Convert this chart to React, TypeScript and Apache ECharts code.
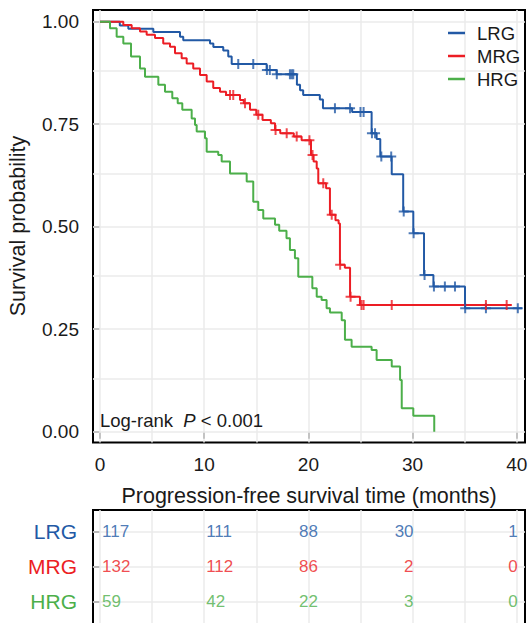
import React, { useEffect, useRef } from "react";
import * as echarts from "echarts";

const FONT = "'Liberation Sans', Arial, Helvetica, sans-serif";

const groupNames = ["LRG", "MRG", "HRG"];
const groupColors = ["#2259A5", "#EC1D24", "#4CAF4A"];

// LRG (low risk group): event times and survival after each event
const lrgTimes = [0, 1.9, 2.72, 5.12, 7.68, 7.99, 10.56, 10.88, 11.83, 12.31, 12.64, 16.0, 16.95, 18.9, 19.2, 19.5, 21.1, 21.4, 24.2, 26.07, 26.55, 26.9, 28.0, 29.1, 30.07, 31.1, 32.0, 35.03];
const lrgSurv = [1, 0.991, 0.983, 0.975, 0.963, 0.955, 0.947, 0.938, 0.93, 0.915, 0.897, 0.882, 0.872, 0.846, 0.833, 0.821, 0.81, 0.789, 0.78, 0.728, 0.714, 0.671, 0.628, 0.537, 0.484, 0.382, 0.354, 0.301];
const lrgEnd = 40.5;
const lrgCensor = [13.27, 14.71, 16.02, 16.3, 16.97, 18.23, 18.4, 18.55, 22.55, 24.0, 25.0, 25.3, 26.1, 26.4, 27.0, 27.95, 29.15, 30.1, 31.15, 32.05, 33.1, 34.07, 35.05, 37.04, 40.1];

// MRG (medium risk group)
const mrgTimes = [0, 2.24, 3.04, 3.84, 4.48, 5.28, 6.07, 6.72, 7.2, 7.84, 8.32, 8.95, 9.6, 10.24, 10.87, 11.52, 12.1, 13.44, 13.8, 14.4, 15.0, 15.6, 16.4, 16.8, 17.3, 18.6, 19.35, 20.25, 20.5, 20.8, 20.95, 21.7, 22.07, 22.6, 22.9, 23.03, 23.5, 24.0, 24.95];
const mrgSurv = [1, 0.992, 0.984, 0.976, 0.968, 0.96, 0.947, 0.939, 0.923, 0.911, 0.898, 0.886, 0.87, 0.854, 0.838, 0.829, 0.821, 0.809, 0.801, 0.785, 0.773, 0.76, 0.752, 0.736, 0.728, 0.72, 0.711, 0.675, 0.659, 0.642, 0.606, 0.594, 0.529, 0.516, 0.508, 0.407, 0.4, 0.329, 0.309];
const mrgEnd = 39.5;
const mrgCensor = [12.48, 12.79, 13.92, 15.19, 16.85, 17.92, 18.88, 20.1, 20.4, 21.43, 22.24, 23.05, 24.05, 25.1, 25.3, 28.0, 37.04, 39.03];

// HRG (high risk group)
const hrgTimes = [0, 0.96, 1.6, 2.24, 2.98, 3.84, 4.32, 5.6, 6.24, 6.94, 7.46, 7.9, 8.8, 9.12, 9.28, 10.08, 10.24, 11.35, 11.68, 12.48, 14.08, 14.71, 15.19, 15.67, 16.8, 17.2, 17.9, 18.23, 18.71, 19.03, 20.38, 20.8, 21.27, 21.75, 22.07, 23.2, 23.51, 24.15, 26.07, 26.55, 28.0, 28.8, 28.96, 30.07, 32.08];
const hrgSurv = [1, 0.984, 0.963, 0.947, 0.915, 0.886, 0.866, 0.846, 0.829, 0.813, 0.801, 0.785, 0.764, 0.748, 0.732, 0.716, 0.683, 0.675, 0.659, 0.63, 0.61, 0.561, 0.541, 0.52, 0.505, 0.49, 0.472, 0.443, 0.423, 0.378, 0.35, 0.329, 0.321, 0.301, 0.291, 0.272, 0.224, 0.207, 0.199, 0.175, 0.159, 0.126, 0.057, 0.039, 0];
const hrgEnd = 32.08;
const hrgCensor: number[] = [];

const xTickValues = [0, 10, 20, 30, 40];
const yTickValues = [0, 0.25, 0.5, 0.75, 1];
const xGridValues = [0, 5, 10, 15, 20, 25, 30, 35, 40];
const yGridValues = [0, 0.125, 0.25, 0.375, 0.5, 0.625, 0.75, 0.875, 1];

// Number at risk table
const riskTimes = [0, 10, 20, 30, 40];
const riskLRG = [117, 111, 88, 30, 1];
const riskMRG = [132, 112, 86, 2, 0];
const riskHRG = [59, 42, 22, 3, 0];
const riskRowValues = [3, 2, 1];

function survAt(times: number[], surv: number[], t: number) {
  let s = surv[0];
  for (let i = 0; i < times.length; i++) if (times[i] <= t) s = surv[i];
  return s;
}

export default function App() {
  const ref = useRef<HTMLDivElement>(null);
  useEffect(() => {
    if (!ref.current) return;
    const chart = echarts.init(ref.current, null, { renderer: "svg" });
    const curves = [
      { times: lrgTimes, surv: lrgSurv, end: lrgEnd, censor: lrgCensor, risk: riskLRG },
      { times: mrgTimes, surv: mrgSurv, end: mrgEnd, censor: mrgCensor, risk: riskMRG },
      { times: hrgTimes, surv: hrgSurv, end: hrgEnd, censor: hrgCensor, risk: riskHRG },
    ];
    const gridLine = {
      silent: true,
      symbol: "none",
      z: 1,
      label: { show: false },
      lineStyle: { color: "#EBEBEB", width: 1.5, type: "solid" },
      emphasis: { disabled: true },
    };
    const series: any[] = [];
    curves.forEach((c, i) => {
      const data = c.times.map((t, k) => [t, c.surv[k]]);
      if (c.end > c.times[c.times.length - 1]) data.push([c.end, c.surv[c.surv.length - 1]]);
      series.push({
        name: groupNames[i],
        type: "line",
        step: "end",
        data,
        symbol: "none",
        xAxisIndex: 0,
        yAxisIndex: 0,
        z: 3,
        lineStyle: { color: groupColors[i], width: 2 },
        itemStyle: { color: groupColors[i] },
        markLine:
          i === 0
            ? {
                ...gridLine,
                data: [
                  ...xGridValues.map((v) => ({ xAxis: v })),
                  ...yGridValues.map((v) => ({ yAxis: v })),
                ],
              }
            : undefined,
      });
    });
    curves.forEach((c, i) => {
      series.push({
        name: groupNames[i] + " censored",
        type: "scatter",
        xAxisIndex: 0,
        yAxisIndex: 0,
        z: 4,
        symbol: "path://M4,0H6V4H10V6H6V10H4V6H0V4H4Z",
        symbolSize: 10,
        itemStyle: { color: groupColors[i] },
        data: c.censor.map((t) => [t, survAt(c.times, c.surv, t)]),
      });
    });
    const alignFor = (k: number) => (k <= 1 ? "left" : k === 2 ? "center" : "right");
    curves.forEach((c, i) => {
      series.push({
        name: groupNames[i] + " at risk",
        type: "scatter",
        xAxisIndex: 1,
        yAxisIndex: 1,
        z: 4,
        symbolSize: 0,
        data: riskTimes.map((t, k) => ({
          value: [t, riskRowValues[i], c.risk[k]],
          label: {
            align: alignFor(k),
            offset: [alignFor(k) === "left" ? 2 : alignFor(k) === "right" ? 1 : 0, 0],
          },
        })),
        label: {
          show: true,
          position: "inside",
          verticalAlign: "middle",
          color: groupColors[i],
          fontSize: 17,
          fontFamily: FONT,
          formatter: (p: any) => String(p.value[2]),
        },
        markLine:
          i === 0
            ? {
                ...gridLine,
                data: [
                  ...xGridValues.map((v) => ({ xAxis: v })),
                  ...riskRowValues.map((v) => ({ yAxis: v })),
                ],
              }
            : undefined,
      });
    });

    const rowName = (v: number) => groupNames[riskRowValues.indexOf(v)];
    const rich: any = {};
    groupNames.forEach((g, i) => {
      rich["g" + i] = { color: groupColors[i], fontSize: 21, fontFamily: FONT };
    });

    const xMin = -0.67;
    const xMax = 40.79;
    const tickStyle = { color: "#222", width: 1.6 };

    chart.setOption({
      animation: false,
      backgroundColor: "#ffffff",
      textStyle: { fontFamily: FONT },
      grid: [
        { left: 93, top: 10, width: 432, height: 432.5, show: true, borderColor: "#000", borderWidth: 2, backgroundColor: "transparent", outerBoundsMode: "none", containLabel: false },
        { left: 93, top: 510, width: 432, height: 116.2, show: true, borderColor: "#000", borderWidth: 2, backgroundColor: "transparent", outerBoundsMode: "none", containLabel: false },
      ],
      xAxis: [
        {
          gridIndex: 0,
          type: "value",
          min: xMin,
          max: xMax,
          axisLine: { show: false },
          splitLine: { show: false },
          axisTick: { show: true, customValues: xTickValues, length: 7, lineStyle: tickStyle },
          axisLabel: { customValues: xTickValues, margin: 12, fontSize: 19, color: "#1a1a1a", fontFamily: FONT },
        },
        {
          gridIndex: 1,
          type: "value",
          min: xMin,
          max: xMax,
          axisLine: { show: false },
          splitLine: { show: false },
          axisTick: { show: false },
          axisLabel: { show: false },
        },
      ],
      yAxis: [
        {
          gridIndex: 0,
          type: "value",
          min: -0.0263,
          max: 1.0285,
          axisLine: { show: false },
          splitLine: { show: false },
          axisTick: { show: true, customValues: yTickValues, length: 7, lineStyle: tickStyle },
          axisLabel: {
            customValues: yTickValues,
            margin: 14,
            fontSize: 19,
            color: "#1a1a1a",
            fontFamily: FONT,
            formatter: (v: number) => v.toFixed(2),
          },
        },
        {
          gridIndex: 1,
          type: "value",
          min: 0.3,
          max: 3.62,
          axisLine: { show: false },
          splitLine: { show: false },
          axisTick: { show: true, customValues: riskRowValues, length: 8, lineStyle: { color: "#222", width: 2 } },
          axisLabel: {
            customValues: riskRowValues,
            margin: 16,
            formatter: (v: number) => {
              const n = rowName(v);
              return "{g" + groupNames.indexOf(n) + "|" + n + "}";
            },
            rich,
          },
        },
      ],
      legend: {
        data: groupNames,
        orient: "vertical",
        left: 448,
        top: 23,
        padding: 0,
        icon: "rect",
        itemWidth: 17,
        itemHeight: 2.5,
        itemGap: 3,
        textStyle: { fontSize: 18.5, lineHeight: 20, color: "#1a1a1a", fontFamily: FONT, padding: [0, 0, 0, 7] },
      },
      graphic: [
        {
          type: "text",
          x: 309,
          y: 496,
          style: {
            text: "Progression-free survival time (months)",
            fontSize: 21.5,
            fontFamily: FONT,
            fill: "#1a1a1a",
            align: "center",
            verticalAlign: "middle",
          },
        },
        {
          type: "text",
          x: 18,
          y: 226,
          rotation: Math.PI / 2,
          style: {
            text: "Survival probability",
            fontSize: 21.5,
            fontFamily: FONT,
            fill: "#1a1a1a",
            align: "center",
            verticalAlign: "middle",
          },
        },
        {
          type: "text",
          x: 100,
          y: 420,
          z: 10,
          style: {
            text: "{a|Log-rank  }{b|P}{a| < 0.001}",
            align: "left",
            verticalAlign: "middle",
            rich: {
              a: { fontSize: 18.5, fontFamily: FONT, fill: "#1a1a1a", color: "#1a1a1a" },
              b: { fontSize: 18.5, fontFamily: FONT, fontStyle: "italic", fill: "#1a1a1a", color: "#1a1a1a" },
            },
          },
        },
      ],
      series,
    });
    return () => chart.dispose();
  }, []);
  return <div ref={ref} style={{ position: "fixed", left: 0, top: 0, width: 528, height: 623 }} />;
}
